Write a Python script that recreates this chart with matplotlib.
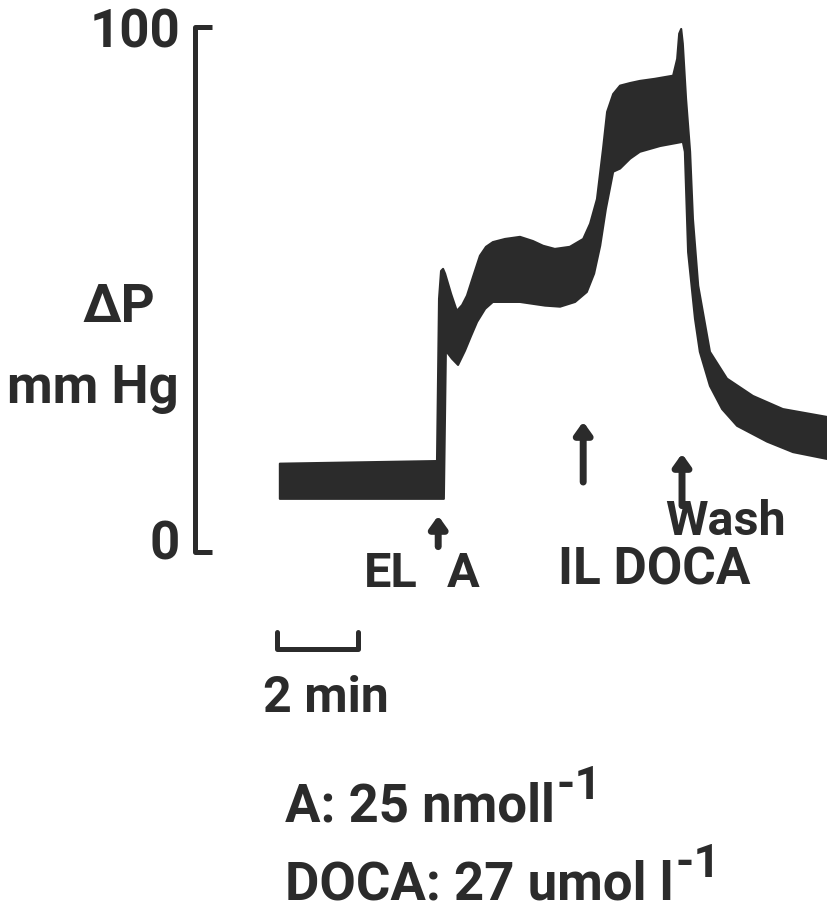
import matplotlib
matplotlib.use('Agg')
import matplotlib.pyplot as plt
from matplotlib.transforms import ScaledTranslation

plt.rcParams['font.family'] = ['Roboto', 'DejaVu Sans']
plt.rcParams['font.weight'] = 'bold'

INK = '#2b2b2b'

# pressure band: upper and lower envelope (time in min, dP in mm Hg)
upper_t = [0.07, 3.95, 4.00, 4.05, 4.10, 4.15, 4.30, 4.44, 4.57, 4.69, 4.84,
           5.01, 5.16, 5.33, 5.63, 6.00, 6.32, 6.57, 6.86, 7.23, 7.56, 7.73,
           7.90, 8.05, 8.15, 8.30, 8.47, 8.72, 8.96, 9.33, 9.78, 9.88, 9.93,
           9.98, 10.02, 10.10, 10.20, 10.27, 10.40, 10.69, 11.11, 11.75,
           12.49, 13.58]
upper_p = [16.8, 17.3, 48.2, 53.5, 53.9, 53.0, 49.1, 45.9, 47.0, 48.8, 52.4,
           56.4, 58.1, 59.0, 59.6, 60.0, 59.2, 58.3, 57.7, 58.1, 59.6, 62.5,
           67.2, 76.8, 83.8, 87.2, 88.8, 89.3, 89.7, 90.1, 90.7, 93.9, 98.7,
           99.6, 96.8, 86.3, 76.2, 63.4, 50.7, 38.1, 33.0, 29.7, 27.2, 25.7]

lower_t = [0.07, 4.12, 4.17, 4.32, 4.47, 4.64, 4.79, 4.94, 5.14, 5.33, 6.00,
           6.62, 6.99, 7.36, 7.65, 7.83, 7.98, 8.12, 8.30, 8.47, 8.72, 8.96,
           9.46, 10.02, 10.07, 10.15, 10.32, 10.44, 10.69, 10.99, 11.36,
           12.10, 12.74, 13.58]
lower_p = [10.1, 10.1, 38.3, 36.8, 35.6, 38.3, 41.1, 43.8, 46.3, 47.6, 47.6,
           46.9, 46.7, 47.6, 49.5, 53.0, 58.3, 65.3, 72.4, 73.0, 74.9, 76.2,
           77.3, 78.1, 76.2, 57.1, 44.4, 38.1, 31.6, 27.2, 24.0, 21.0, 19.0,
           17.7]

# additions: A, DOCA, wash (arrow tail / head in mm Hg)
event_t = [3.98, 7.56, 10.0]
arrow_lo = [1.0, 13.3, 8.8]
arrow_hi = [6.9, 24.8, 18.7]

yticks = [0, 100]
scale_min = 2

fig = plt.figure(figsize=(8.27, 9.12), dpi=100)
ax = fig.add_axes([0, 0, 1, 1])
ax.set_xlim(-6.84, 13.58)
ax.set_ylim(-68.4, 105.3)

band_t = upper_t + lower_t[::-1]
band_p = upper_p + lower_p[::-1]
ax.fill(band_t, band_p, facecolor=INK, edgecolor=INK, lw=1.5, joinstyle='round')

# calibration bar as the left spine
for side in ['top', 'right', 'bottom']:
    ax.spines[side].set_visible(False)
ax.spines['left'].set_position(('data', -2.02))
ax.spines['left'].set_bounds(0, 100)
ax.spines['left'].set_linewidth(3.6)
ax.spines['left'].set_color(INK)
ax.spines['left'].set_capstyle('round')
ax.set_yticks(yticks)
ax.set_yticklabels([str(v) for v in yticks])
ax.tick_params(axis='y', direction='in', length=12, width=3.6, color=INK,
               pad=11, labelsize=38, labelcolor=INK)
ax.xaxis.set_visible(False)
# the zero label sits a little above its tick
zero_lab = ax.yaxis.get_major_ticks()[0].label1
zero_lab.set_transform(zero_lab.get_transform()
                       + ScaledTranslation(0, 0.13, fig.dpi_scale_trans))

ax.text(-3.01, 44.0, 'ΔP', ha='right', va='baseline', fontsize=38, color=INK)
ax.text(-2.44, 28.6, 'mm Hg', ha='right', va='baseline', fontsize=38, color=INK)

for t, lo, hi in zip(event_t, arrow_lo, arrow_hi):
    ax.annotate('', xy=(t, hi), xytext=(t, lo),
                arrowprops=dict(arrowstyle='-|>,head_length=0.7,head_width=0.5',
                                lw=5, color=INK, shrinkA=0, shrinkB=0,
                                joinstyle='round', capstyle='round'))

ax.text(3.46, -6.5, 'EL', ha='right', va='baseline', fontsize=35, color=INK)
ax.text(4.20, -6.5, 'A', ha='left', va='baseline', fontsize=35, color=INK)
ax.text(6.94, -6.1, 'IL DOCA', ha='left', va='baseline', fontsize=37, color=INK)
ax.text(9.58, 3.4, 'Wash', ha='left', va='baseline', fontsize=35, color=INK)

# time scale bar
ax.plot([0, 0, scale_min, scale_min], [-15.2, -18.5, -18.5, -15.2], color=INK,
        lw=3.6, solid_joinstyle='round', solid_capstyle='round')
ax.text(-0.35, -30.3, '2 min', ha='left', va='baseline', fontsize=36, color=INK)

conc1 = ax.text(0.2, -51.2, 'A: 25 nmoll', ha='left', va='baseline',
                fontsize=38, color=INK)
conc2 = ax.text(0.2, -66.1, 'DOCA: 27 umol l', ha='left', va='baseline',
                fontsize=38, color=INK)
for t in [conc1, conc2]:
    ax.annotate('-1', xy=(1, 0), xycoords=t, xytext=(2, 34),
                textcoords='offset pixels', ha='left', va='baseline',
                fontsize=34, color=INK)

fig.savefig('out.png', dpi=100, facecolor='white')
